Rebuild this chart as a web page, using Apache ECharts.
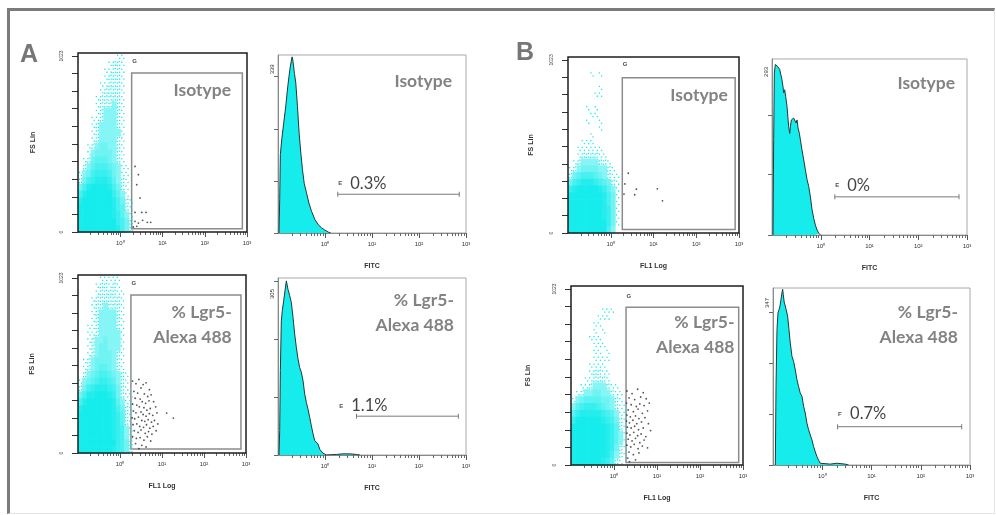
<!DOCTYPE html>
<html><head><meta charset="utf-8">
<script src="https://cdn.jsdelivr.net/npm/echarts@6/dist/echarts.min.js"></script>
<style>
html,body{margin:0;padding:0;background:#fff;}
#frame{position:absolute;left:7px;top:8px;box-sizing:border-box;width:988px;height:506px;border-top:3px solid #7b7b7b;border-left:3px solid #7b7b7b;border-right:1px solid #e4e4e4;border-bottom:1px solid #e4e4e4;}
#chart{position:absolute;left:0;top:0;width:996px;height:515px;}
</style></head><body><div id="frame"></div><div id="chart"></div>
<script>
// ---------- text ----------
const panelLetters = ['A', 'B'];
const gateLabels = ['Isotype', '% Lgr5-\nAlexa 488', 'Isotype', '% Lgr5-\nAlexa 488'];
const histLabels = ['Isotype', '% Lgr5-\nAlexa 488', 'Isotype', '% Lgr5-\nAlexa 488'];
const xTickLabels = ['10⁰', '10¹', '10²', '10³'];
const xTickValues = [0, 1, 2, 3];            // log10 decades
const fsTickValues = [0, 102.3, 204.6, 306.9, 409.2, 511.5, 613.8, 716.1, 818.4, 920.7, 1023];
const fsTickLabels = [0, 1023];

// ---------- dot plots: density of the cyan population (rows from top, cols of 0.1 decade from 10^-1) ----------
const densityAIso = [
"00000000011000","00000001221000","00000011221000","00000012221000","00000112221000",
"00000122221000","00001222221000","00001222321000","00001233321000","00011233321000",
"00012333321000","00012333331000","00012333321000","00123443321000","00134444321000",
"01245554321000","02356665431100","13467776431100","24678887532100","46899998642100",
"68999999753100","89999999864210","99999999865210","99999999875310","99999999976420",
"99999999986420"];
const densityALgr5 = [
"00000111110000","00001221210000","00001222211000","00012222221000","00012232221000",
"00012333321000","00012333321000","00112333321000","00112333331000","00123343331000",
"00123443331000","00123444321000","01234444321000","01234554321000","02345665432100",
"13456776532100","24678887642100","46889998742110","68999999853110","89999999864210",
"99999999875210","99999999875210","99999999876310","99999999876310","99999999976420",
"99999999876420"];
const densityBIso = [
"00000000000000","00000000000000","00000101000000","00000000000000","00000001000000",
"00000011000000","00000000000000","00001010000000","00000110000000","00001001000000",
"00000001000000","00000100000000","00011100000000","00111111000000","00122221100000",
"01233332210000","12344443321000","24566654321100","46788876542100","78999998753100",
"99999999864100","99999999864100","99999999874100","99999999874100","99999999974100",
"99999999963000"];
const densityBLgr5 = [
"00000000000000","00000000000000","00000000000000","00000001110000","00000011100000",
"00000110000000","00000101000000","00001110000000","00000111000000","00000110100000",
"00000111100000","00001111000000","00001221100000","00011222100000","00112333211000",
"01233443321100","13455554432100","35677765432110","57888887653110","79999998764210",
"99999999875210","99999999875310","99999999875310","99999999874210","99999999863210",
"99999998752100"];

// gated (positive) events: [log10 FL1, FS]
const gatedAIso = [[0.35,381],[0.43,333],[0.39,275],[0.47,198],[0.35,114],[0.51,114],[0.61,114],
  [0.35,62],[0.43,52],[0.53,68],[0.64,56],[0.72,56],[0.31,29],[0.39,33]];
const gatedALgr5 = [[0.30,420],[0.38,405],[0.45,430],[0.55,400],[0.62,410],[0.50,380],[0.70,370],
  [0.33,360],[0.42,350],[0.58,345],[0.66,330],[0.74,340],[0.36,320],[0.48,315],[0.53,300],[0.61,290],
  [0.69,305],[0.80,300],[0.30,285],[0.40,280],[0.46,270],[0.57,265],[0.64,250],[0.72,260],[0.85,270],
  [0.32,245],[0.38,235],[0.50,240],[0.55,225],[0.62,215],[0.70,230],[0.78,220],[0.88,235],[0.29,205],
  [0.35,200],[0.44,210],[0.52,190],[0.59,185],[0.67,195],[0.75,180],[0.82,190],[0.31,165],[0.40,170],
  [0.47,155],[0.56,150],[0.63,165],[0.71,145],[0.79,155],[0.90,170],[0.34,130],[0.43,120],[0.50,135],
  [0.60,115],[0.68,125],[0.76,110],[0.86,130],[0.30,95],[0.39,85],[0.48,90],[0.57,75],[0.65,95],
  [0.73,70],[0.37,55],[0.52,45],[0.62,35],[0.45,25],[1.11,233],[1.27,204]];
const gatedBIso = [[0.41,353],[0.33,290],[0.31,230],[0.60,259],[0.56,226],[1.09,261],[1.21,190]];
const gatedBLgr5 = [[0.30,430],[0.42,415],[0.55,440],[0.68,420],[0.35,390],[0.48,380],[0.62,395],
  [0.75,385],[0.29,360],[0.40,350],[0.52,340],[0.60,355],[0.70,345],[0.82,360],[0.33,320],[0.45,310],
  [0.56,325],[0.66,300],[0.78,315],[0.30,290],[0.38,280],[0.50,285],[0.58,270],[0.72,275],[0.29,255],
  [0.36,245],[0.44,260],[0.53,240],[0.64,250],[0.80,240],[0.31,220],[0.40,215],[0.48,225],[0.57,205],
  [0.68,215],[0.85,200],[0.30,185],[0.37,175],[0.46,190],[0.55,170],[0.63,180],[0.74,165],[0.33,150],
  [0.42,140],[0.50,155],[0.60,130],[0.70,145],[0.30,115],[0.39,105],[0.47,120],[0.56,95],[0.66,110],
  [0.78,100],[0.35,75],[0.45,60],[0.58,70],[0.32,40],[0.50,30],[0.36,20]];
// gate G: [x0, y0, x1, y1]
const gatesG = [[0.27,19,2.89,924],[0.26,23,2.88,923],[0.27,20,2.91,918],[0.28,15,2.90,916]];

// ---------- histograms: [log10 FITC, count] ----------
const histAIso = [[-0.979,0],[-0.964,72],[-0.95,170],[-0.921,202],[-0.879,238],[-0.836,274],[-0.793,317],
  [-0.75,353],[-0.714,375],[-0.7,382],[-0.686,375],[-0.671,364],[-0.65,346],[-0.621,325],[-0.586,274],
  [-0.55,216],[-0.514,173],[-0.479,137],[-0.443,108],[-0.393,87],[-0.343,65],[-0.286,47],[-0.214,29],
  [-0.143,18],[-0.071,11],[0,6],[0.071,2],[0.121,0]];
const histALgr5 = [[-0.979,0],[-0.964,43],[-0.95,148],[-0.929,235],[-0.908,253],[-0.879,270],[-0.851,288],
  [-0.822,305],[-0.787,290],[-0.751,279],[-0.716,267],[-0.68,241],[-0.645,212],[-0.609,188],[-0.574,168],
  [-0.538,153],[-0.503,145],[-0.467,130],[-0.432,107],[-0.396,92],[-0.361,80],[-0.325,66],[-0.29,51],
  [-0.254,37],[-0.218,25],[-0.183,22],[-0.147,19],[-0.112,10],[-0.076,8],[-0.041,3],[-0.005,1],[0.03,0],
  [0.243,1],[0.385,2],[0.528,2],[0.67,1],[0.74,0]];
const histBIso = [[-0.979,0],[-0.966,155],[-0.952,263],[-0.932,277],[-0.911,279],[-0.884,274],[-0.863,277],
  [-0.842,269],[-0.815,266],[-0.795,252],[-0.774,241],[-0.76,231],[-0.74,236],[-0.719,225],[-0.692,209],
  [-0.658,176],[-0.637,165],[-0.623,176],[-0.603,187],[-0.582,184],[-0.555,190],[-0.527,187],[-0.507,182],
  [-0.486,187],[-0.466,174],[-0.438,165],[-0.418,155],[-0.384,138],[-0.349,122],[-0.315,106],[-0.281,90],
  [-0.247,79],[-0.212,62],[-0.178,41],[-0.144,27],[-0.11,16],[-0.075,8],[-0.041,3],[-0.007,0]];
const histBLgr5 = [[-0.953,0],[-0.939,178],[-0.919,308],[-0.899,345],[-0.878,353],[-0.858,361],[-0.838,376],
  [-0.818,391],[-0.804,399],[-0.791,387],[-0.77,368],[-0.75,361],[-0.73,357],[-0.703,338],[-0.676,308],
  [-0.649,277],[-0.615,247],[-0.581,235],[-0.547,216],[-0.514,194],[-0.48,178],[-0.446,163],[-0.412,156],
  [-0.378,133],[-0.345,118],[-0.311,95],[-0.277,80],[-0.243,68],[-0.209,57],[-0.176,42],[-0.142,30],
  [-0.108,19],[-0.074,11],[-0.041,4],[-0.007,0],[0.162,2],[0.297,4],[0.466,2],[0.534,0]];
const histYMax = [386, 310, 286, 402];
const histYTicks = [[0,113,226,339],[0,102,203,305],[0,98,195,293],[0,116,231,347]];
const histYTopLabel = [339, 305, 293, 347];
const histYTopLabelAt = [355, 282, 265, 368];
// markers
const markerNames = ['E', 'E', 'E', 'F'];
const markerPercents = ['0.3%', '1.1%', '0%', '0.7%'];
const markerRanges = [[0.271,2.857],[0.67,2.837],[0.288,2.836],[0.311,2.831]];
const markerLevels = [84, 68, 62, 87];
const markerLabelX = [0.271, 0.293, 0.288, 0.311];
const markerLabelY = [108, 86, 80, 116];

// ---------- layout ----------
const X_MIN = -1, X_MAX = 3, DOT_Y_MAX = 1040, CELL_DX = 0.1, CELL_DY = 40;
const CYAN = [22, 236, 236];
const plots = [
  {kind:'dot', box:[78,53,169,179], dens:densityAIso, gated:gatedAIso, gi:0, fsGap:41, xName:'', lblOff:[-12,6]},
  {kind:'hist', box:[278,55,188,178], hist:histAIso, hi:0, xName:'FITC', lblOff:[-14,14]},
  {kind:'dot', box:[78,275,168,178], dens:densityALgr5, gated:gatedALgr5, gi:1, fsGap:42, xName:'FL1 Log', lblOff:[-10,6]},
  {kind:'hist', box:[278,278,188,177], hist:histALgr5, hi:1, xName:'FITC', lblOff:[-12,10]},
  {kind:'dot', box:[568,57,171,176], dens:densityBIso, gated:gatedBIso, gi:2, fsGap:33, xName:'FL1 Log', lblOff:[-8,6]},
  {kind:'hist', box:[772,59,195,176], hist:histBIso, hi:2, xName:'FITC', lblOff:[-12,12]},
  {kind:'dot', box:[571,286,172,179], dens:densityBLgr5, gated:gatedBLgr5, gi:3, fsGap:39, xName:'FL1 Log', lblOff:[-5,3]},
  {kind:'hist', box:[773,288,197,177], hist:histBLgr5, hi:3, xName:'FITC', lblOff:[-12,12]}
];
const gLabelY = [993, 993, 998, 982];

const minorTicks = [];
[-1, 0, 1, 2].forEach(d => { for (let k = 2; k <= 9; k++) minorTicks.push(d + Math.log10(k)); });

// fixed in-cell positions used to draw sparse cells as speckles
const SPECKLE = [[0.2,0.25],[0.7,0.7],[0.65,0.15],[0.15,0.75],[0.45,0.5],[0.85,0.4]];

function cellsFrom(rows) {
  const out = [];
  rows.forEach((row, r) => {
    for (let c = 0; c < row.length; c++) {
      const d = +row[c];
      if (d > 0) out.push([X_MIN + c * CELL_DX, DOT_Y_MAX - r * CELL_DY, d]);
    }
  });
  return out;
}
function mix(d) {
  const t = Math.pow(Math.min(1, d / 9), 0.6);
  const c = CYAN.map(v => Math.round(255 + (v - 255) * t));
  return 'rgb(' + c.join(',') + ')';
}
const CYAN_CSS = 'rgb(' + CYAN.join(',') + ')';

const grids = [], xAxes = [], yAxes = [], series = [];
const tinyFont = 'Liberation Sans';
const HIDDEN = 'rgba(0,0,0,0)';
plots.forEach((p, i) => {
  const isDot = p.kind === 'dot';
  grids.push({left:p.box[0], top:p.box[1], width:p.box[2], height:p.box[3], show:true, z:isDot ? 5 : 0,
    backgroundColor:HIDDEN, borderColor:isDot ? '#1e1e1e' : '#a8a8a8', borderWidth:isDot ? 1.5 : 1});
  xAxes.push({gridIndex:i, type:'value', min:X_MIN, max:X_MAX, position:'bottom',
    axisLine:{show:!isDot, onZero:false, lineStyle:{color:'#8a8a8a', width:1}},
    axisTick:{show:true, customValues:xTickValues, length:5, lineStyle:{color:'#555'}},
    axisLabel:{show:true, customValues:xTickValues, formatter:v => xTickLabels[Math.round(v)], fontSize:6, color:'#333', margin:8, fontFamily:tinyFont},
    splitLine:{show:false},
    name:p.xName, nameLocation:'middle', nameGap:30,
    nameTextStyle:{fontSize:7, fontWeight:'bold', color:'#333', fontFamily:tinyFont}});
  xAxes.push({gridIndex:i, type:'value', min:X_MIN, max:X_MAX, position:'bottom',
    axisLine:{show:false, onZero:false}, axisTick:{show:true, customValues:minorTicks, length:3, lineStyle:{color:'#666'}},
    axisLabel:{show:false}, splitLine:{show:false}});
  if (isDot) {
    yAxes.push({gridIndex:i, type:'value', min:0, max:DOT_Y_MAX, position:'left',
      axisLine:{show:false, onZero:false},
      axisTick:{show:true, customValues:fsTickValues, length:6, lineStyle:{color:'#333'}},
      axisLabel:{show:true, customValues:fsTickLabels, formatter:v => String(Math.round(v)), rotate:90, fontSize:5, color:'#444', margin:14, fontFamily:tinyFont},
      splitLine:{show:false},
      name:'FS Lin', nameLocation:'middle', nameRotate:90, nameGap:p.fsGap,
      nameTextStyle:{fontSize:7, fontWeight:'bold', color:'#333', fontFamily:tinyFont}});
    const g = gatesG[p.gi];
    series.push({type:'custom', xAxisIndex:2*i, yAxisIndex:i, data:cellsFrom(p.dens), silent:true,
      renderItem:(params, api) => {
        const d = api.value(2);
        const a = api.coord([api.value(0), api.value(1)]);
        const b = api.coord([api.value(0) + CELL_DX, api.value(1) - CELL_DY]);
        const w = b[0] - a[0], h = b[1] - a[1];
        if (d <= 2) {
          const n = d === 1 ? 2 : 4;
          return {type:'group', children:SPECKLE.slice(0, n).map(s => ({type:'rect',
            shape:{x:a[0] + s[0] * w, y:a[1] + s[1] * h, width:1.3, height:1.3},
            style:{fill:CYAN_CSS}}))};
        }
        return {type:'rect', shape:{x:a[0], y:a[1], width:w + 0.6, height:h + 0.6},
          style:{fill:mix(d)}};
      }});
    series.push({type:'scatter', xAxisIndex:2*i, yAxisIndex:i, data:p.gated, symbolSize:1.8, silent:true,
      itemStyle:{color:'#2a2a2a'},
      markArea:{silent:true, itemStyle:{color:HIDDEN, borderColor:'#8c8c8c', borderWidth:1.5},
        label:{show:true, position:'insideTopRight', distance:0, offset:p.lblOff, formatter:gateLabels[p.gi],
          fontFamily:'Lato', fontWeight:'bold', fontSize:17.5, lineHeight:25, color:'#838383', align:'right'},
        data:[[{coord:[g[0], g[1]]}, {coord:[g[2], g[3]]}]]}});
    series.push({type:'scatter', xAxisIndex:2*i, yAxisIndex:i, data:[[g[0], gLabelY[p.gi]]], symbolSize:1, silent:true,
      itemStyle:{color:HIDDEN},
      label:{show:true, position:'right', distance:0, formatter:'G', fontSize:6, fontWeight:'bold', color:'#111', fontFamily:tinyFont}});
  } else {
    const h = p.hi;
    yAxes.push({gridIndex:i, type:'value', min:0, max:histYMax[h], position:'left',
      axisLine:{show:true, onZero:false, lineStyle:{color:'#8a8a8a'}},
      axisTick:{show:true, customValues:histYTicks[h], length:4, lineStyle:{color:'#666'}},
      axisLabel:{show:true, customValues:[histYTopLabelAt[h]], formatter:() => String(histYTopLabel[h]), rotate:90, fontSize:6, color:'#333', margin:3, fontFamily:tinyFont},
      splitLine:{show:false}});
    series.push({type:'line', xAxisIndex:2*i, yAxisIndex:i, data:p.hist, symbol:'none', silent:true,
      lineStyle:{color:'#1d3b3b', width:1}, areaStyle:{color:CYAN_CSS, opacity:1},
      markArea:{silent:true, itemStyle:{color:HIDDEN},
        label:{show:true, position:'insideTopRight', distance:0, offset:p.lblOff, formatter:histLabels[h],
          fontFamily:'Lato', fontWeight:'bold', fontSize:17.5, lineHeight:25, color:'#838383', align:'right'},
        data:[[{coord:[X_MIN, 0]}, {coord:[X_MAX, histYMax[h]]}]]}});
    series.push({type:'line', xAxisIndex:2*i, yAxisIndex:i, silent:true,
      data:[[markerRanges[h][0], markerLevels[h]], [markerRanges[h][1], markerLevels[h]]],
      symbol:'rect', symbolSize:[1,5], showSymbol:true, lineStyle:{color:'#7a7a7a', width:1}, itemStyle:{color:'#7a7a7a'}});
    series.push({type:'scatter', xAxisIndex:2*i, yAxisIndex:i, silent:true,
      data:[[markerLabelX[h], markerLabelY[h]]], symbolSize:1, itemStyle:{color:HIDDEN},
      label:{show:true, position:'right', distance:0,
        formatter:'{e|' + markerNames[h] + '}{p|' + markerPercents[h] + '}',
        rich:{e:{fontSize:6, fontWeight:'bold', color:'#222', fontFamily:tinyFont, width:12},
              p:{fontSize:16.5, color:'#111', fontFamily:'Lato'}}}});
  }
});

const chart = echarts.init(document.getElementById('chart'), null, {renderer:'canvas', width:996, height:515});
chart.setOption({
  animation:false,
  backgroundColor:HIDDEN,
  title:[
    {text:panelLetters[0], left:20, top:43, padding:0, textStyle:{fontSize:25, fontWeight:'bold', color:'#767676', fontFamily:'Liberation Sans'}},
    {text:panelLetters[1], left:516, top:41, padding:0, textStyle:{fontSize:25, fontWeight:'bold', color:'#767676', fontFamily:'Liberation Sans'}}
  ],
  grid:grids, xAxis:xAxes, yAxis:yAxes, series:series
});
</script></body></html>
